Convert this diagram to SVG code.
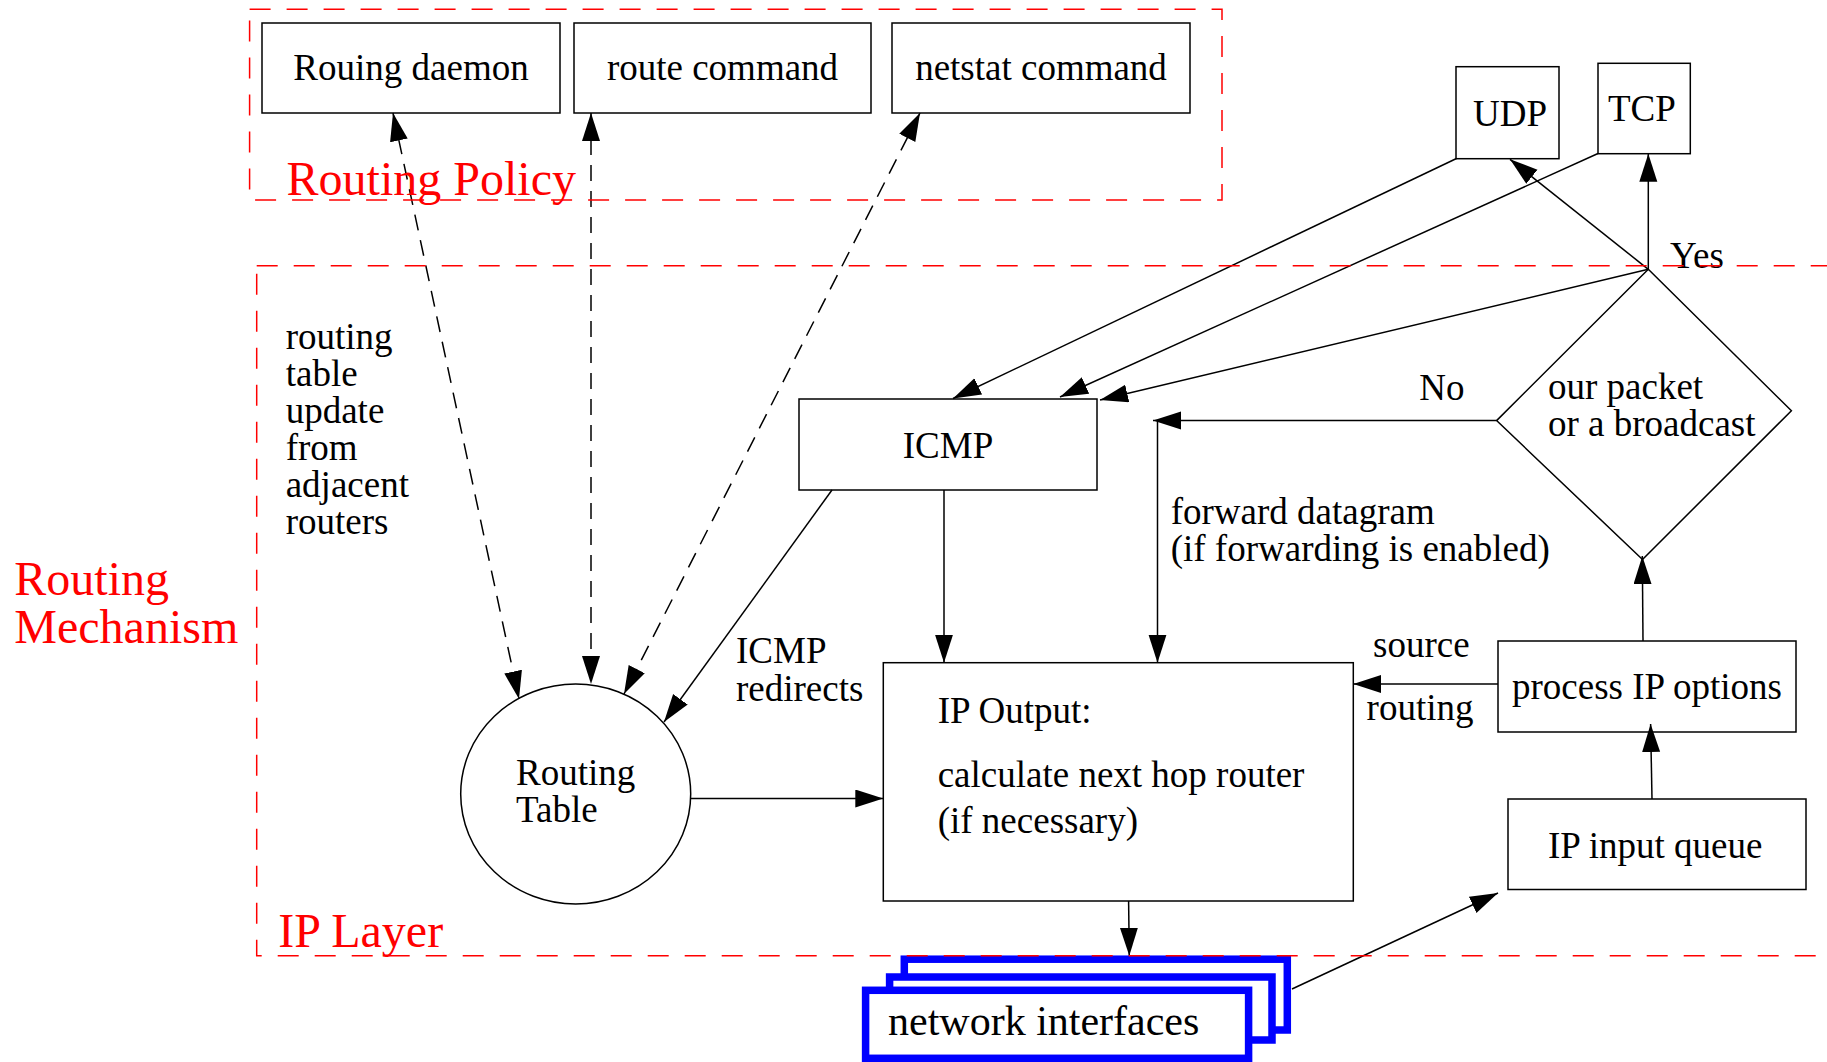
<svg xmlns="http://www.w3.org/2000/svg" width="1827" height="1062" viewBox="0 0 1827 1062">
<style>
  .box { fill: #fff; stroke: #000; stroke-width: 1.5; }
  .t { font-family: "Liberation Serif", "Times New Roman", serif; font-size: 37px; fill: #000; }
  .m { text-anchor: middle; }
  .red { font-family: "Liberation Serif", "Times New Roman", serif; font-size: 48px; fill: #ff0000; }
  .frame { fill: none; stroke: #ff0000; stroke-width: 1.5; stroke-dasharray: 21 16; }
  .conn line, .conn polyline { stroke: #000; stroke-width: 1.5; fill: none; }
  .arr { marker-end: url(#ah); }
  .dbl { marker-start: url(#ah); marker-end: url(#ah); stroke-dasharray: 16 10; }
  .nic { fill: #fff; stroke: #0000ff; stroke-width: 7.5; }
</style>
<defs>
  <marker id="ah" markerUnits="userSpaceOnUse" markerWidth="30" markerHeight="20" refX="28" refY="9" orient="auto-start-reverse">
    <path d="M0,0 L28,9 L0,18 z" fill="#000"/>
  </marker>
</defs>
<rect width="1827" height="1062" fill="#fff"/>

<g id="nodes">
  <g id="routing-daemon"><rect class="box" x="262" y="23" width="298" height="90"/><text class="t m" x="411" y="80">Rouing daemon</text></g>
  <g id="route-command"><rect class="box" x="574" y="23" width="297" height="90"/><text class="t m" x="722.5" y="80">route command</text></g>
  <g id="netstat-command"><rect class="box" x="892" y="23" width="298" height="90"/><text class="t m" x="1041" y="80">netstat command</text></g>
  <g id="udp"><rect class="box" x="1456" y="66.7" width="103" height="92"/><text class="t" x="1473" y="126">UDP</text></g>
  <g id="tcp"><rect class="box" x="1598" y="63.3" width="92.3" height="90.4"/><text class="t" x="1608" y="121">TCP</text></g>
  <g id="icmp"><rect class="box" x="799" y="399" width="298" height="91"/><text class="t m" x="948" y="457.7">ICMP</text></g>
  <g id="decision"><polygon class="box" points="1648.3,269.3 1791.4,410.7 1642.5,559.5 1496.6,420.6"/><text class="t" x="1548" y="398.5">our packet</text><text class="t" x="1548" y="435.6">or a broadcast</text></g>
  <g id="routing-table"><ellipse class="box" cx="575.7" cy="794" rx="115" ry="110"/><text class="t" x="516" y="785">Routing</text><text class="t" x="516" y="822">Table</text></g>
  <g id="ip-output"><rect class="box" x="883.3" y="662.7" width="470" height="238.3"/><text class="t" x="937.7" y="723.3">IP Output:</text><text class="t" x="937.7" y="786.7">calculate next hop router</text><text class="t" x="937.7" y="833.3">(if necessary)</text></g>
  <g id="process-ip-options"><rect class="box" x="1498" y="641" width="298" height="91"/><text class="t m" x="1647" y="699">process IP options</text></g>
  <g id="ip-input-queue"><rect class="box" x="1508" y="799" width="298" height="90.5"/><text class="t" x="1548" y="857.7">IP input queue</text></g>
  <g id="network-interfaces">
    <rect class="nic" x="904.3" y="959.2" width="383" height="70.8"/>
    <rect class="nic" x="889.6" y="977" width="382.4" height="63"/>
    <rect class="nic" x="865.6" y="990.3" width="383" height="68"/>
    <text class="t" x="888" y="1035" style="font-size:42px">network interfaces</text>
  </g>
</g>

<g id="connectors" class="conn">
  <line class="dbl" x1="393" y1="113" x2="519" y2="699"/>
  <line class="dbl" x1="591" y1="113" x2="591" y2="684"/>
  <line class="dbl" x1="920" y1="113" x2="624" y2="694"/>
  <line class="arr" x1="832" y1="490" x2="664" y2="722"/>
  <line class="arr" x1="944" y1="490" x2="944" y2="662.7"/>
  <line class="arr" x1="691" y1="798.5" x2="883.3" y2="798.5"/>
  <line class="arr" x1="1496.6" y1="420.6" x2="1153" y2="420.6"/>
  <line class="arr" x1="1157.5" y1="420.6" x2="1157.5" y2="662.7"/>
  <line class="arr" x1="1498" y1="684" x2="1353.3" y2="684"/>
  <line class="arr" x1="1643" y1="641" x2="1642.3" y2="556"/>
  <line class="arr" x1="1652" y1="799" x2="1650.6" y2="724"/>
  <line class="arr" x1="1292" y1="989" x2="1498" y2="893"/>
  <line class="arr" x1="1128.6" y1="901" x2="1129.3" y2="955.7"/>
  <line class="arr" x1="1456.5" y1="158.5" x2="953" y2="398.5"/>
  <line class="arr" x1="1598" y1="153.5" x2="1060" y2="397"/>
  <line class="arr" x1="1648.3" y1="269.3" x2="1510" y2="159.3"/>
  <line class="arr" x1="1648.3" y1="269.3" x2="1648.3" y2="153.7"/>
  <line class="arr" x1="1648.3" y1="269.3" x2="1100" y2="400"/>
</g>

<g id="labels">
  <text class="t" x="1670" y="268">Yes</text>
  <text class="t" x="1419.3" y="400">No</text>
  <text class="t" x="1170.7" y="524">forward datagram</text>
  <text class="t" x="1170.7" y="561">(if forwarding is enabled)</text>
  <text class="t" x="1373" y="656.8">source</text>
  <text class="t" x="1366.6" y="720">routing</text>
  <text class="t" x="736" y="663.3">ICMP</text>
  <text class="t" x="736" y="700.5">redirects</text>
  <text class="t" x="285.7" y="349.3">routing</text>
  <text class="t" x="285.7" y="386.3">table</text>
  <text class="t" x="285.7" y="423.3">update</text>
  <text class="t" x="285.7" y="460.3">from</text>
  <text class="t" x="285.7" y="497.3">adjacent</text>
  <text class="t" x="285.7" y="534.3">routers</text>
</g>

<g id="regions">
  <rect class="frame" x="249.6" y="9.3" width="972.4" height="190.7"/>
  <rect class="frame" x="256.7" y="265.7" width="1600" height="690"/>
  <text class="red" x="286.6" y="195">Routing Policy</text>
  <text class="red" x="14.3" y="595">Routing</text>
  <text class="red" x="14.3" y="642.7">Mechanism</text>
  <text class="red" x="278.3" y="946.7">IP Layer</text>
</g>
</svg>
